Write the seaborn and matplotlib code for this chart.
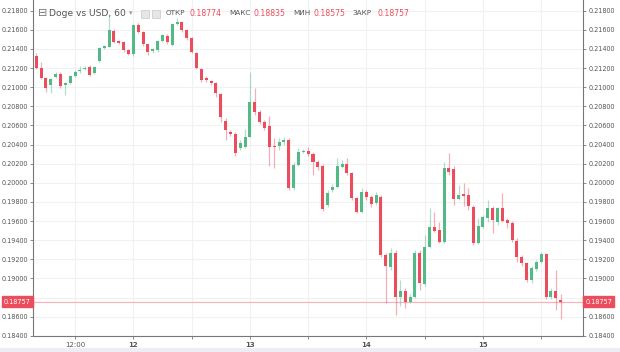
import matplotlib
matplotlib.use("Agg")
import matplotlib.pyplot as plt
import matplotlib.transforms as mtransforms
from matplotlib.patches import Rectangle
import seaborn as sns
import pandas as pd

# ---- data (hourly candles, index 20 = day 12 00:00) ----
opens = [0.21329, 0.21198, 0.21099, 0.21023, 0.21110, 0.21138, 0.21023, 0.21041, 0.21117, 0.21169,
         0.21187, 0.21214, 0.21145, 0.21274, 0.21407, 0.21424, 0.21591, 0.21483, 0.21476, 0.21389,
         0.21344, 0.21650, 0.21580, 0.21449, 0.21379, 0.21389, 0.21483, 0.21539, 0.21441, 0.21664,
         0.21679, 0.21598, 0.21518, 0.21361, 0.21190, 0.21093, 0.21065, 0.21047, 0.20929, 0.20646,
         0.20535, 0.20511, 0.20361, 0.20378, 0.20482, 0.20848, 0.20744, 0.20639, 0.20594, 0.20385,
         0.20385, 0.20430, 0.20448, 0.19943, 0.20186, 0.20325, 0.20333, 0.20301, 0.20218, 0.20176,
         0.19768, 0.19925, 0.19953, 0.20169, 0.20197, 0.20100, 0.19838, 0.19698, 0.19901, 0.19855,
         0.19786, 0.19849, 0.19245, 0.19116, 0.19269, 0.18809, 0.18872, 0.18757, 0.18809, 0.19269,
         0.18942, 0.19332, 0.19535, 0.19507, 0.19384, 0.20152, 0.20145, 0.19828, 0.19880, 0.19873,
         0.19750, 0.19374, 0.19541, 0.19629, 0.19733, 0.19593, 0.19733, 0.19611, 0.19583, 0.19395,
         0.19224, 0.19158, 0.18984, 0.19096, 0.19175, 0.19256, 0.18806, 0.18872, 0.18774]
highs = [0.21358, 0.21264, 0.21105, 0.21096, 0.21159, 0.21159, 0.21054, 0.21128, 0.21180, 0.21222,
         0.21222, 0.21232, 0.21222, 0.21420, 0.21441, 0.21755, 0.21609, 0.21494, 0.21483, 0.21399,
         0.21661, 0.21671, 0.21588, 0.21452, 0.21410, 0.21494, 0.21556, 0.21556, 0.21671, 0.21724,
         0.21692, 0.21609, 0.21525, 0.21368, 0.21201, 0.21117, 0.21075, 0.21054, 0.20939, 0.20678,
         0.20552, 0.20532, 0.20448, 0.20563, 0.21159, 0.20992, 0.20762, 0.20657, 0.20699, 0.20469,
         0.20469, 0.20479, 0.20469, 0.20218, 0.20364, 0.20354, 0.20375, 0.20322, 0.20239, 0.20197,
         0.19925, 0.19988, 0.20260, 0.20239, 0.20260, 0.20113, 0.19852, 0.19946, 0.19925, 0.19873,
         0.19904, 0.19873, 0.19266, 0.19318, 0.19297, 0.18984, 0.18900, 0.18837, 0.19297, 0.19297,
         0.19454, 0.19737, 0.19695, 0.19590, 0.20218, 0.20312, 0.20176, 0.19977, 0.19998, 0.19946,
         0.19768, 0.19632, 0.19663, 0.19820, 0.19758, 0.19747, 0.19894, 0.19632, 0.19601, 0.19423,
         0.19245, 0.19172, 0.19130, 0.19193, 0.19277, 0.19266, 0.18900, 0.19088, 0.18835]
lows = [0.21190, 0.21086, 0.20950, 0.20939, 0.21096, 0.20992, 0.20918, 0.21033, 0.21107, 0.21148,
        0.21180, 0.21117, 0.21138, 0.21264, 0.21399, 0.21420, 0.21462, 0.21452, 0.21368, 0.21337,
        0.21326, 0.21567, 0.21431, 0.21337, 0.21358, 0.21368, 0.21473, 0.21452, 0.21431, 0.21650,
        0.21577, 0.21494, 0.21358, 0.21190, 0.21054, 0.21054, 0.21023, 0.20897, 0.20636, 0.20448,
        0.20490, 0.20280, 0.20343, 0.20364, 0.20479, 0.20709, 0.20615, 0.20552, 0.20176, 0.20155,
        0.20343, 0.20396, 0.19925, 0.19925, 0.20176, 0.20312, 0.20280, 0.20082, 0.20134, 0.19705,
        0.19747, 0.19904, 0.19946, 0.20155, 0.20082, 0.19820, 0.19684, 0.19684, 0.19820, 0.19747,
        0.19768, 0.19224, 0.18743, 0.19088, 0.18618, 0.18712, 0.18691, 0.18743, 0.18795, 0.18879,
        0.18921, 0.19318, 0.19486, 0.19371, 0.19371, 0.20082, 0.19768, 0.19820, 0.19758, 0.19716,
        0.19350, 0.19360, 0.19527, 0.19590, 0.19475, 0.19559, 0.19590, 0.19527, 0.19381, 0.19172,
        0.19130, 0.18963, 0.18952, 0.19078, 0.19161, 0.18785, 0.18785, 0.18670, 0.18575]
closes = [0.21198, 0.21099, 0.20988, 0.21086, 0.21138, 0.21016, 0.21047, 0.21117, 0.21162, 0.21180,
          0.21204, 0.21128, 0.21208, 0.21407, 0.21428, 0.21598, 0.21470, 0.21462, 0.21389, 0.21344,
          0.21650, 0.21580, 0.21449, 0.21371, 0.21396, 0.21483, 0.21546, 0.21476, 0.21658, 0.21685,
          0.21598, 0.21511, 0.21371, 0.21204, 0.21075, 0.21075, 0.21047, 0.20936, 0.20691, 0.20552,
          0.20514, 0.20307, 0.20413, 0.20482, 0.20848, 0.20744, 0.20639, 0.20570, 0.20378, 0.20375,
          0.20430, 0.20448, 0.19943, 0.20186, 0.20325, 0.20336, 0.20301, 0.20218, 0.20169, 0.19721,
          0.19897, 0.19959, 0.20176, 0.20197, 0.20100, 0.19838, 0.19698, 0.19907, 0.19855, 0.19778,
          0.19873, 0.19245, 0.19130, 0.19263, 0.18806, 0.18872, 0.18757, 0.18809, 0.19263, 0.18949,
          0.19332, 0.19535, 0.19499, 0.19384, 0.20152, 0.20110, 0.19828, 0.19873, 0.19865, 0.19758,
          0.19374, 0.19548, 0.19639, 0.19733, 0.19611, 0.19733, 0.19604, 0.19583, 0.19402, 0.19224,
          0.19158, 0.18984, 0.19106, 0.19175, 0.19256, 0.18806, 0.18872, 0.18795, 0.18757]

x_tick_pos = [8, 20, 32, 44, 56, 68, 80, 92, 104]
x_tick_labels = ["12:00", "12", "", "13", "", "14", "", "15", ""]
y_tick_vals = [0.184, 0.186, 0.188, 0.190, 0.192, 0.194, 0.196, 0.198, 0.200,
               0.202, 0.204, 0.206, 0.208, 0.210, 0.212, 0.214, 0.216, 0.218]
last_price = 0.18757
title_text = "Doge vs USD, 60"
ohlc_labels = ["ОТКР", "МАКС", "МИН", "ЗАКР"]
ohlc_values = ["0.18774", "0.18835", "0.18575", "0.18757"]

df = pd.DataFrame({"t": range(len(opens)), "open": opens, "high": highs,
                   "low": lows, "close": closes})
df["up"] = df["close"] >= df["open"]

GREEN = "#53b987"
RED = "#eb4d5c"
TXT = "#555555"

sns.set_theme(style="white")
plt.rcParams["font.family"] = ["DejaVu Sans"]

fig = plt.figure(figsize=(6.2, 3.52), dpi=100)
fig.patch.set_facecolor("white")
ax = fig.add_axes([33 / 620, 16 / 352, 550 / 620, 336 / 352])

# grid
for yv in y_tick_vals:
    ax.axhline(yv, color="#f1f1f1", lw=0.8, zorder=0)
for xv in x_tick_pos:
    ax.axvline(xv, color="#f1f1f1", lw=0.8, zorder=0)

# wicks and bodies
for up, sub in df.groupby("up"):
    col = GREEN if up else RED
    ax.vlines(sub["t"], sub["low"], sub["high"], color=col, alpha=0.45, lw=0.9, zorder=2)
    body_lo = sub[["open", "close"]].min(axis=1)
    body_h = (sub["open"] - sub["close"]).abs().clip(lower=0.00009)
    ax.bar(sub["t"], body_h, bottom=body_lo, width=0.62, color=col, lw=0, zorder=3)

# last price line
ax.axhline(last_price, color="#f5b3ba", lw=0.9, zorder=1)

ax.set_xlim(-0.66, 112.6)
ax.set_ylim(0.18398, 0.21912)
ax.set_yticks(y_tick_vals)
# the 0.18800 label sits under the last-price marker in the reference
ax.set_yticklabels(["" if abs(v - 0.188) < 1e-9 else f"{v:.5f}" for v in y_tick_vals])
ax.set_xticks(x_tick_pos)
ax.set_xticklabels(x_tick_labels)
for lbl in ax.get_xticklabels():
    if lbl.get_text() not in ("12:00", ""):
        lbl.set_fontweight("bold")
ax.tick_params(axis="y", left=True, right=True, labelleft=True, labelright=True,
               length=2.5, width=0.6, color="#777777", labelsize=4.7, labelcolor=TXT, pad=1.2)
ax.tick_params(axis="x", bottom=True, length=2.5, width=0.6, color="#777777",
               labelsize=5, labelcolor=TXT, pad=2)
for s in ["left", "right", "bottom"]:
    ax.spines[s].set_visible(True)
    ax.spines[s].set_color("#777777")
    ax.spines[s].set_linewidth(0.8)
ax.spines["top"].set_visible(False)
ax.set_xlabel("")
ax.set_ylabel("")

# price labels on both axes
trans_l = mtransforms.blended_transform_factory(ax.transAxes, ax.transData)
for xa, ha in [(-0.004, "right"), (1.004, "left")]:
    ax.text(xa, last_price, f"{last_price:.5f}", transform=trans_l, ha=ha, va="center",
            fontsize=4.7, color="white", zorder=10, clip_on=False,
            bbox=dict(boxstyle="square,pad=0.35", fc=RED, ec=RED))

# header
fig.text(38 / 620, 1 - 13 / 352, "⊟", fontsize=8, color="#777777", ha="left", va="center")
fig.text(49 / 620, 1 - 13 / 352, title_text, fontsize=6.6, color=TXT, ha="left", va="center")
fig.text(129 / 620, 1 - 13 / 352, "▾", fontsize=5, color="#999999", ha="left", va="center")
for bx in [141, 152]:
    fig.patches.append(Rectangle((bx / 620, 1 - 17.5 / 352), 8 / 620, 8 / 352,
                                 transform=fig.transFigure, fc="#e6e6e6", ec="#c8c8c8", lw=0.5))
lab_x = [166, 229, 293, 352]
val_x = [190, 254, 313, 377]
for lx, vx, lab, val in zip(lab_x, val_x, ohlc_labels, ohlc_values):
    fig.text(lx / 620, 1 - 13 / 352, lab, fontsize=5.2, color=TXT, ha="left", va="center")
    fig.text(vx / 620, 1 - 13 / 352, val, fontsize=5.6, color=RED, ha="left", va="center")

# bottom band
fig.patches.append(Rectangle((0, 0), 1, 4 / 352, transform=fig.transFigure,
                             fc="#eceef3", ec="none"))

fig.savefig("out.png", dpi=100)
